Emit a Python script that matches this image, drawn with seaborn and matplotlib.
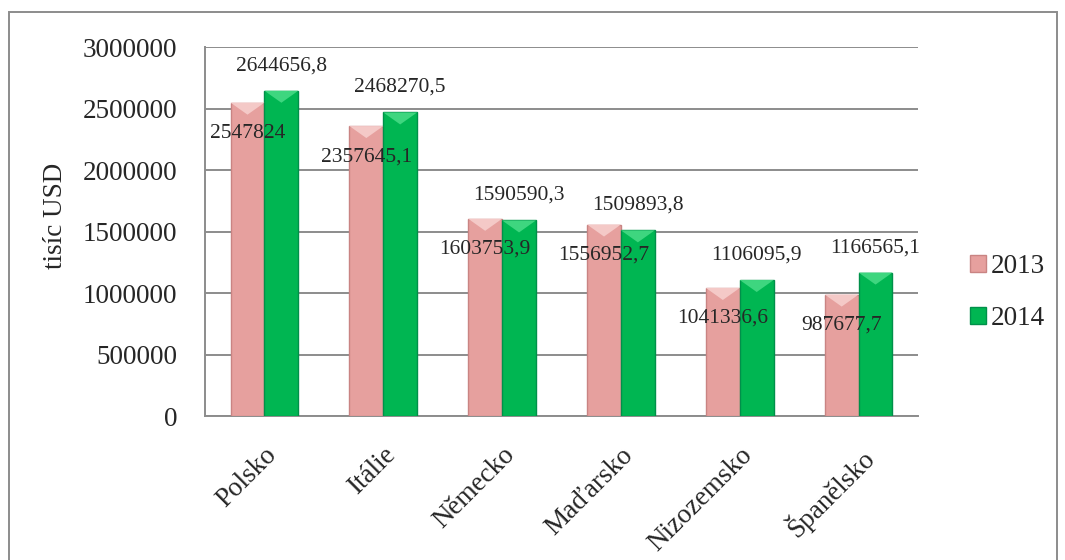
import pandas as pd
import matplotlib.pyplot as plt
import seaborn as sns
from matplotlib.patches import Patch, Rectangle, Polygon

#data
countries = ["Polsko", "Itálie", "Německo", "Maďarsko", "Nizozemsko", "Španělsko"]
years = ["2013", "2014"]
values_2013 = [2547824, 2357645.1, 1603753.9, 1556952.7, 1041336.6, 987677.7]
values_2014 = [2644656.8, 2468270.5, 1590590.3, 1509893.8, 1106095.9, 1166565.1]
labels_2013 = ["2547824", "2357645,1", "1603753,9", "1556952,7", "1041336,6", "987677,7"]
labels_2014 = ["2644656,8", "2468270,5", "1590590,3", "1509893,8", "1106095,9", "1166565,1"]
yticks = [0, 500000, 1000000, 1500000, 2000000, 2500000, 3000000]

df = pd.DataFrame({"Země": countries * 2,
                   "Rok": [years[0]] * 6 + [years[1]] * 6,
                   "Hodnota": values_2013 + values_2014})

#plotting
sns.set_theme(style="white")
plt.rcParams["font.family"] = ["Liberation Serif", "DejaVu Serif"]

pink = "#E6A09E"
green = "#00B652"
palette = {"2013": pink, "2014": green}
edges = ["#C98483", "#00904A"]
tops = ["#F4C9C7", "#3ED67F"]

fig = plt.figure(figsize=(10.65, 5.6), dpi=100)
ax = fig.add_axes([0.1925, 0.257, 0.862 - 0.1925, 0.916 - 0.257])

sns.barplot(df, x="Země", y="Hodnota", hue="Rok", palette=palette, width=0.57,
            gap=0, saturation=1, edgecolor="none", linewidth=0, ax=ax, legend=False,
            zorder=3)

ax.set_ylim(0, 3000000)
ax.set_yticks(yticks)
ax.set_yticklabels([str(t) for t in yticks], fontsize=19.5)
ax.yaxis.grid(True, color="#8c8c8c", linewidth=1.4, zorder=0)
ax.set_axisbelow(True)
ax.tick_params(length=0, pad=20)
ax.set_xticks(range(len(countries)))
ax.set_xticklabels(countries, rotation=45, ha="right", rotation_mode="anchor", fontsize=19.5)
ax.tick_params(axis="x", pad=19)
ax.set_xlabel("")
ax.set_ylabel("tisíc USD", fontsize=19.5)
ax.yaxis.set_label_coords(-0.192, 0.542)
for s in ["top", "right"]:
    ax.spines[s].set_visible(False)
for s in ["left", "bottom"]:
    ax.spines[s].set_color("#8c8c8c")
    ax.spines[s].set_linewidth(1.4)

# bevel look: darker edges and a lighter chevron at the top of each bar
px = ax.transData.inverted().transform([(0, 0), (1, 12)])
bevel_h = px[1][1] - px[0][1]
for bars, ec, tc in zip(ax.containers, edges, tops):
    for b in bars:
        b.set_edgecolor(ec)
        b.set_linewidth(1.0)
        x0, w, h = b.get_x(), b.get_width(), b.get_height()
        ax.add_patch(Polygon([(x0, h), (x0 + w, h), (x0 + w / 2, h - bevel_h)],
                             closed=True, facecolor=tc, edgecolor="none", zorder=4))

# data labels
for bar, lab in zip(ax.containers[0], labels_2013):
    ax.annotate(lab, (bar.get_x() + bar.get_width() / 2, bar.get_height()),
                xytext=(0, -22), textcoords="offset points",
                ha="center", va="center", fontsize=15.5, zorder=5)
for bar, lab in zip(ax.containers[1], labels_2014):
    ax.annotate(lab, (bar.get_x() + bar.get_width() / 2, bar.get_height()),
                xytext=(0, 18), textcoords="offset points",
                ha="center", va="center", fontsize=15.5, zorder=5)

handles = [Patch(facecolor=pink, edgecolor=edges[0]), Patch(facecolor=green, edgecolor=edges[1])]
fig.legend(handles, years, loc="center left", bbox_to_anchor=(0.888, 0.477), frameon=False,
           fontsize=19.5, handlelength=0.6, handleheight=0.6, handletextpad=0.15, labelspacing=1.0)

# outer chart border
fig.patches.append(Rectangle((9 / 1065, -0.05), 1048 / 1065, 1.05 - 12 / 560,
                             transform=fig.transFigure, fill=False,
                             edgecolor="#8c8c8c", linewidth=1.4))

fig.savefig("out.png", dpi=100)
